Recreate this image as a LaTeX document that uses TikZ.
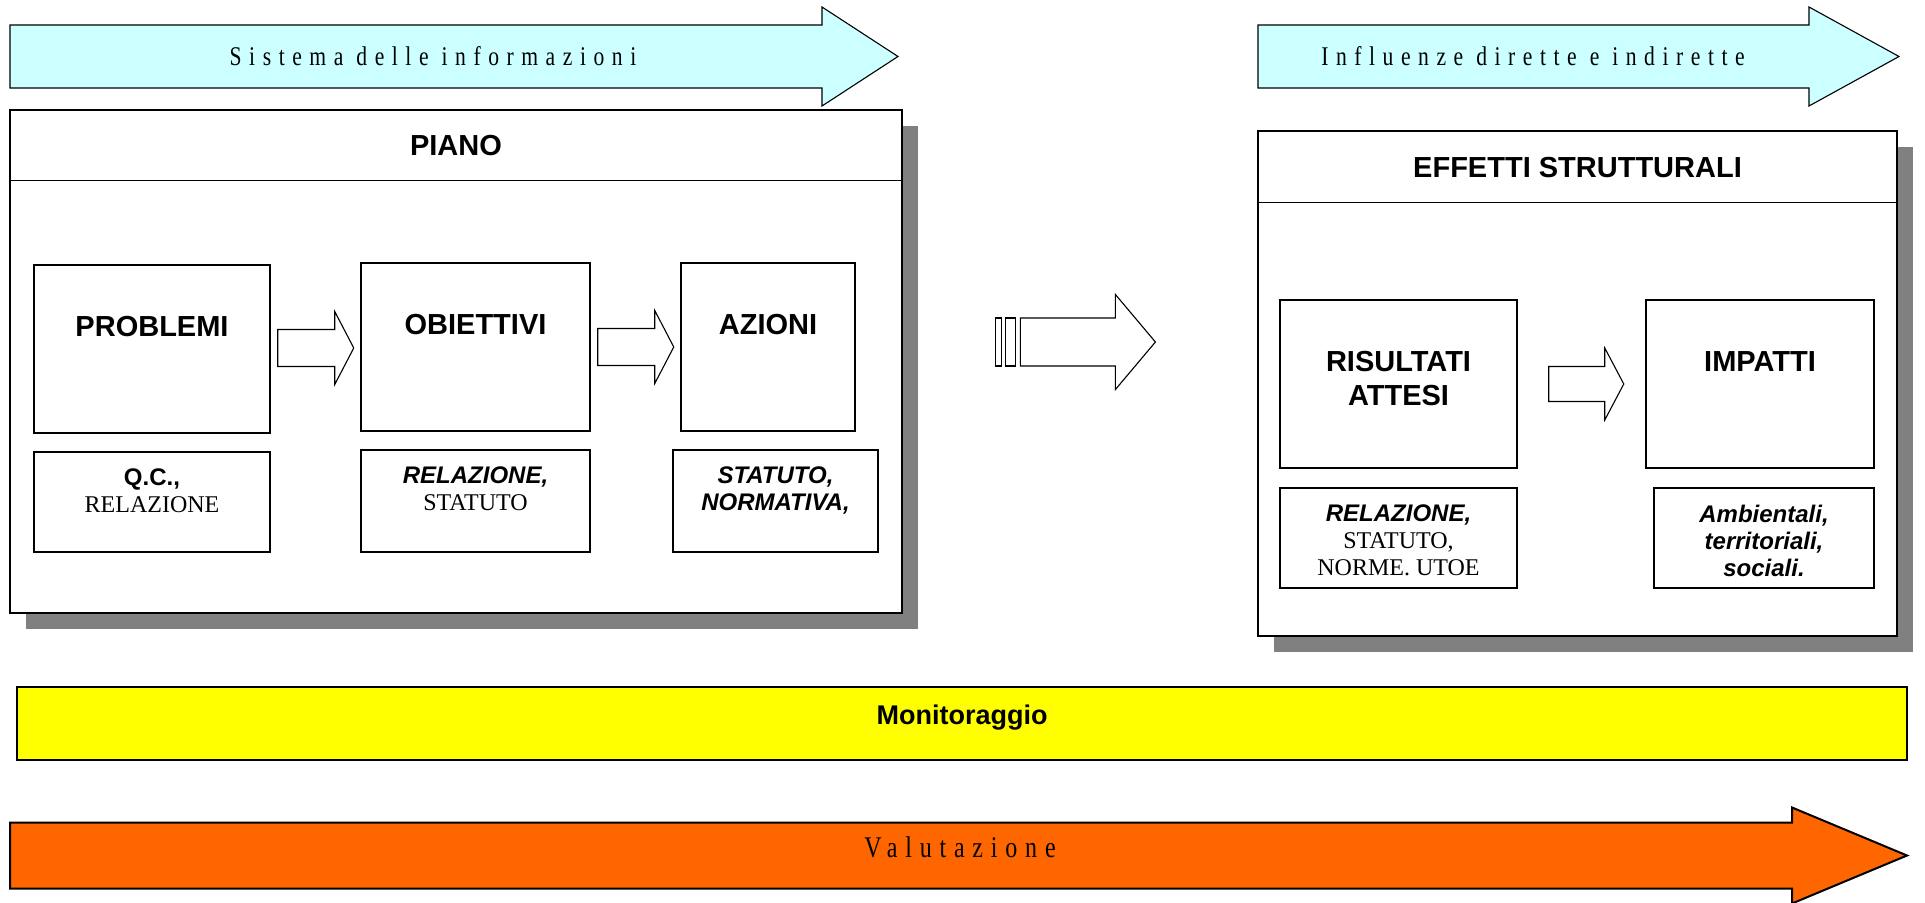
\documentclass[tikz,border=0pt]{standalone}
\usepackage{fontspec}
\setmainfont{Liberation Serif}
\setsansfont{Liberation Sans}
\newfontfamily\spacedserif[LetterSpace=28, FakeStretch=0.8]{Liberation Serif}
\newfontfamily\spacedseriftwo[LetterSpace=26, FakeStretch=0.8]{Liberation Serif}
\usepackage{tikz}
\usetikzlibrary{positioning, calc, shadows}
\usepackage{xcolor}

\definecolor{infocyan}{HTML}{CCFFFF}
\definecolor{valorange}{HTML}{FF6600}
\definecolor{shadowgray}{HTML}{808080}
\definecolor{monyellow}{HTML}{FFFF00}

% block arrow: [style]{tail centre}{length}{head length}{half body}{half head}
\newcommand{\fatarrow}[6][]{%
  \draw[#1] #2 ++(0,-#5) -- ++({#3-#4},0) -- ++(0,{#5-#6}) -- ++(#4,#6)
    -- ++(-#4,#6) -- ++(0,{#5-#6}) -- ++({#4-#3},0) -- cycle;}

\begin{document}
\begin{tikzpicture}[x=0.5pt, y=-0.5pt, line join=miter]

		% Define styles
		\tikzstyle{bigbox} = [rectangle, draw, line width=1.4pt, fill=white, inner sep=0pt, drop shadow={shadow xshift=8pt, shadow yshift=-8pt, fill=shadowgray, opacity=1}]
		\tikzstyle{cell} = [rectangle, draw, line width=0.75pt, fill=white, inner sep=0pt]
		\tikzstyle{headtxt} = [inner sep=0pt, font=\sffamily\bfseries\fontsize{14.5}{17}\selectfont]
		\tikzstyle{doctxt} = [inner sep=0pt, align=center, font=\rmfamily\fontsize{12}{13.5}\selectfont]
		\tikzstyle{fat} = [draw=black, line width=0.55pt, fill=white]

		\useasboundingbox (0,0) rectangle (1925,903);

		% Top arrows
		\fatarrow[fat, fill=infocyan]{(10,56.5)}{888}{76}{31.5}{49.5}
		\node (info) at (433,56) {\spacedserif\fontsize{13.5}{15}\selectfont Sistema delle informazioni};
		\fatarrow[fat, fill=infocyan]{(1258,56.5)}{641}{90}{31.5}{49.5}
		\node (influ) at (1533,56) {\spacedserif\fontsize{13.5}{15}\selectfont Influenze dirette e indirette};

		% Frames
		\node[bigbox, minimum width=446pt, minimum height=251.5pt] (piano) at (456,361.5) {};
		\draw[line width=0.8pt] ($(piano.north west)+(0,72)$) -- ($(piano.north east)+(0,72)$);
		\node[headtxt] (pianotitle) at ($(piano.north)+(0,37)$) {PIANO};

		\node[bigbox, minimum width=319.5pt, minimum height=252.5pt] (effetti) at (1577.5,383.5) {};
		\draw[line width=0.8pt] ($(effetti.north west)+(0,73)$) -- ($(effetti.north east)+(0,73)$);
		\node[headtxt] (effettititle) at ($(effetti.north)+(0,38)$) {EFFETTI STRUTTURALI};

		% Cells
		\node[cell, minimum width=118pt, minimum height=84pt] (probl) at (152,349) {};
		\node[cell, minimum width=114.5pt, minimum height=84pt] (obiet) at (475.5,347) {};
		\node[cell, minimum width=87pt, minimum height=84pt] (azioni) at (768,347) {};
		\node[cell, minimum width=118pt, minimum height=50pt] (qc) at (152,502) {};
		\node[cell, minimum width=114.5pt, minimum height=51pt] (relaz) at (475.5,501) {};
		\node[cell, minimum width=102.5pt, minimum height=51pt] (statuto) at (775.5,501) {};

		\node[cell, minimum width=118.5pt, minimum height=84pt] (risult) at (1398.5,384) {};
		\node[cell, minimum width=114pt, minimum height=84pt] (impatti) at (1760,384) {};
		\node[cell, minimum width=118.5pt, minimum height=50pt] (norme) at (1398.5,538) {};
		\node[cell, minimum width=110pt, minimum height=50pt] (ambient) at (1764,538) {};

		% Labels
		\node[headtxt, anchor=north, below=26pt of probl.north] {PROBLEMI};
		\node[headtxt, anchor=north, below=26pt of obiet.north] {OBIETTIVI};
		\node[headtxt, anchor=north, below=26pt of azioni.north] {AZIONI};
		\node[headtxt, anchor=north, align=center, below=26pt of risult.north] {RISULTATI\\ATTESI};
		\node[headtxt, anchor=north, below=26pt of impatti.north] {IMPATTI};

		\node[doctxt, below=8.5pt of qc.north] {{\sffamily\bfseries Q.C.,}\\RELAZIONE};
		\node[doctxt, below=8.5pt of relaz.north] {{\sffamily\bfseries\itshape RELAZIONE,}\\STATUTO};
		\node[doctxt, below=8.5pt of statuto.north] {{\sffamily\bfseries\itshape STATUTO,}\\{\sffamily\bfseries\itshape NORMATIVA,}};
		\node[doctxt, below=8.5pt of norme.north] {{\sffamily\bfseries\itshape RELAZIONE,}\\STATUTO,\\NORME. UTOE};
		\node[doctxt, below=8.5pt of ambient.north] {{\sffamily\bfseries\itshape Ambientali,}\\{\sffamily\bfseries\itshape territoriali,}\\{\sffamily\bfseries\itshape sociali.}};

		% Arrows
		\fatarrow[fat]{($(probl.east)+(7,-1)$)}{76}{19}{18.5}{36.5}
		\fatarrow[fat]{($(obiet.east)+(7,0)$)}{76}{19}{18.5}{36.5}
		\fatarrow[fat]{($(risult.east)+(31,0)$)}{75}{19}{17.5}{36}

		\coordinate (mid) at ($(piano.east)+(117,-19.5)$);
		\draw[fat] ($(mid)+(-25,-24)$) rectangle ($(mid)+(-19,24)$);
		\draw[fat] ($(mid)+(-15,-24)$) rectangle ($(mid)+(-5,24)$);
		\fatarrow[fat]{(mid)}{135}{40}{24}{47.5}

		% Bottom bands
		\node[rectangle, draw, line width=1pt, fill=monyellow, minimum width=945pt, minimum height=36.5pt] (monit) at (962,723.5) {};
		\node[font=\sffamily\bfseries\fontsize{13.5}{16}\selectfont] (monittxt) at ($(monit.center)+(0,-6)$) {Monitoraggio};
		\fatarrow[fat, fill=valorange, line width=1pt]{(10,855.5)}{1897}{115}{33}{48}
		\node (valut) at (960,847) {\spacedseriftwo\fontsize{15}{17}\selectfont Valutazione};

\end{tikzpicture}
\end{document}
